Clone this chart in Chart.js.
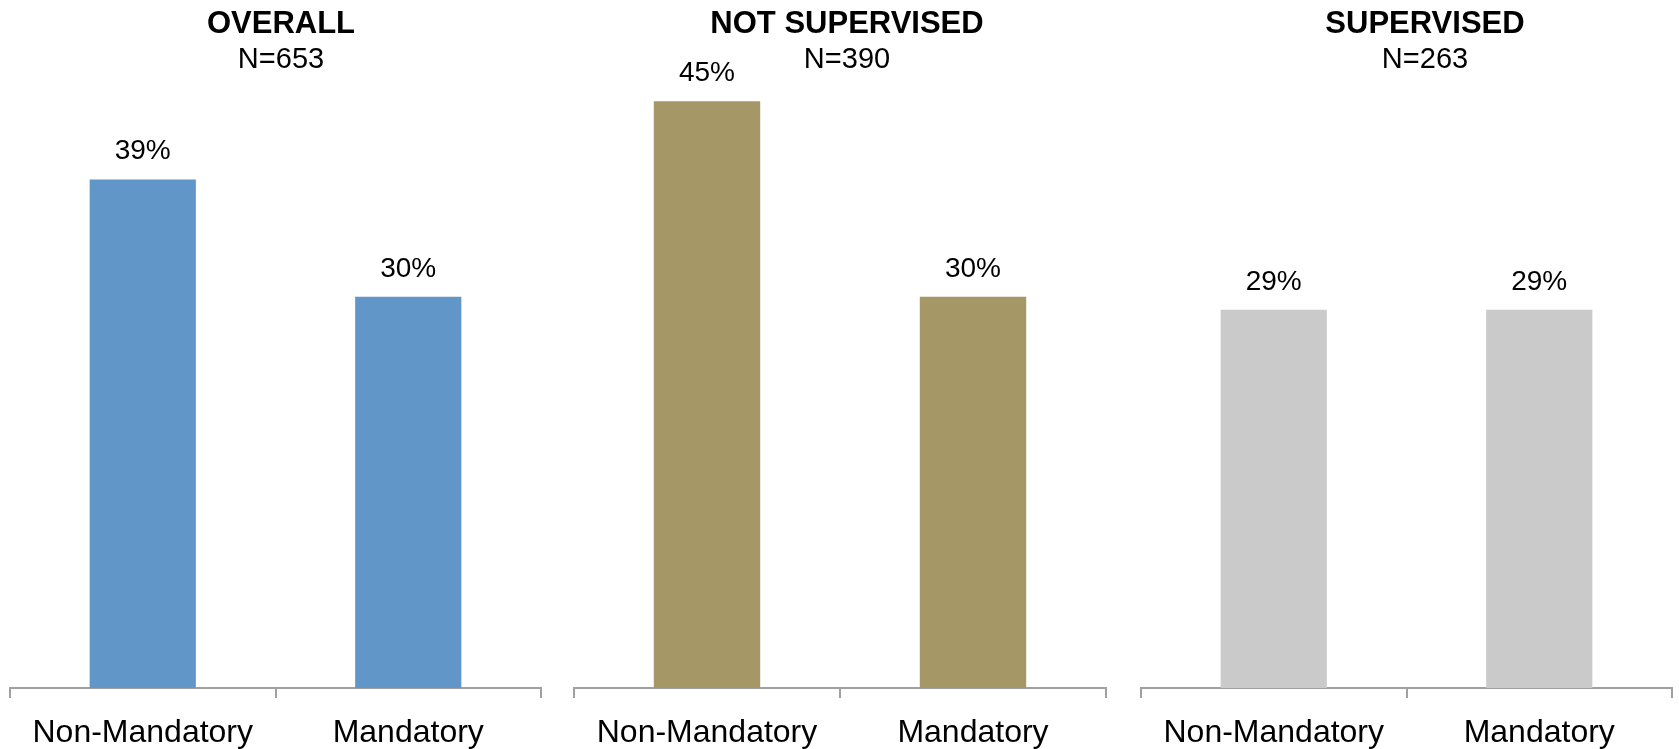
<!DOCTYPE html>
<html>
<head>
<meta charset="utf-8">
<script src="https://cdn.jsdelivr.net/npm/chart.js@4/dist/chart.umd.min.js"></script>
<style>
  html, body { margin: 0; padding: 0; background: #fff; }
  body { width: 1679px; height: 749px; overflow: hidden; position: relative; }
  .panel { position: absolute; top: 0; height: 749px; overflow: hidden; }
</style>
</head>
<body>
<div class="panel" style="left:0;width:562px"><canvas id="c0" width="562" height="770"></canvas></div>
<div class="panel" style="left:565px;width:564px"><canvas id="c1" width="564" height="770"></canvas></div>
<div class="panel" style="left:1132px;width:586px"><canvas id="c2" width="586" height="770"></canvas></div>
<script>
// --- data ---
const categories = ['Non-Mandatory', 'Mandatory'];
const panelTitles = ['OVERALL', 'NOT SUPERVISED', 'SUPERVISED'];
const sampleSizes = [653, 390, 263];
const overallPct = [39, 30];
const notSupervisedPct = [45, 30];
const supervisedPct = [29, 29];

const seriesByPanel = [overallPct, notSupervisedPct, supervisedPct];
const barColors = ['#6196C8', '#A59766', '#CACACA'];
// left/right padding so the axis line sits where it should inside each canvas
const sidePad = [[10, 21], [9, 23], [9, 46]];

const FONT = 'Arial, "Liberation Sans", sans-serif';
const AXIS_GREY = '#A0A0A0';

// title + N line, centred on the whole canvas
const headerPlugin = {
  id: 'header',
  afterDraw(chart, args, opts) {
    const ctx = chart.ctx;
    ctx.save();
    ctx.fillStyle = '#000';
    ctx.textAlign = 'center';
    ctx.textBaseline = 'middle';
    ctx.font = `bold 31px ${FONT}`;
    ctx.fillText(opts.title, chart.width / 2, 24);
    ctx.font = `29px ${FONT}`;
    ctx.fillText('N=' + opts.n, chart.width / 2, 60);
    ctx.restore();
  }
};

// percentage above each bar
const valueLabels = {
  id: 'valueLabels',
  afterDatasetsDraw(chart) {
    const ctx = chart.ctx;
    const meta = chart.getDatasetMeta(0);
    const data = chart.data.datasets[0].data;
    ctx.save();
    ctx.fillStyle = '#000';
    ctx.textAlign = 'center';
    ctx.textBaseline = 'middle';
    ctx.font = `28px ${FONT}`;
    meta.data.forEach((bar, i) => {
      ctx.fillText(data[i] + '%', bar.x, bar.y - 28);
    });
    ctx.restore();
  }
};

seriesByPanel.forEach((values, p) => {
  new Chart(document.getElementById('c' + p), {
    type: 'bar',
    data: {
      labels: categories,
      datasets: [{
        data: values,
        backgroundColor: barColors[p],
        borderWidth: 0,
        barPercentage: 0.4,
        categoryPercentage: 1
      }]
    },
    options: {
      responsive: false,
      animation: false,
      layout: { padding: { top: 36, bottom: 2, left: sidePad[p][0], right: sidePad[p][1] } },
      plugins: {
        legend: { display: false },
        tooltip: { enabled: false },
        header: { title: panelTitles[p], n: sampleSizes[p] }
      },
      scales: {
        y: { display: false, min: 0, max: 50 },
        x: {
          grid: { offset: true, drawOnChartArea: false, drawTicks: true, tickLength: 10, color: AXIS_GREY, lineWidth: 2 },
          border: { display: true, color: AXIS_GREY, width: 2 },
          ticks: { color: '#000', padding: 19, font: { family: FONT, size: 32, lineHeight: 1 } }
        }
      }
    },
    plugins: [headerPlugin, valueLabels]
  });
});
</script>
</body>
</html>
